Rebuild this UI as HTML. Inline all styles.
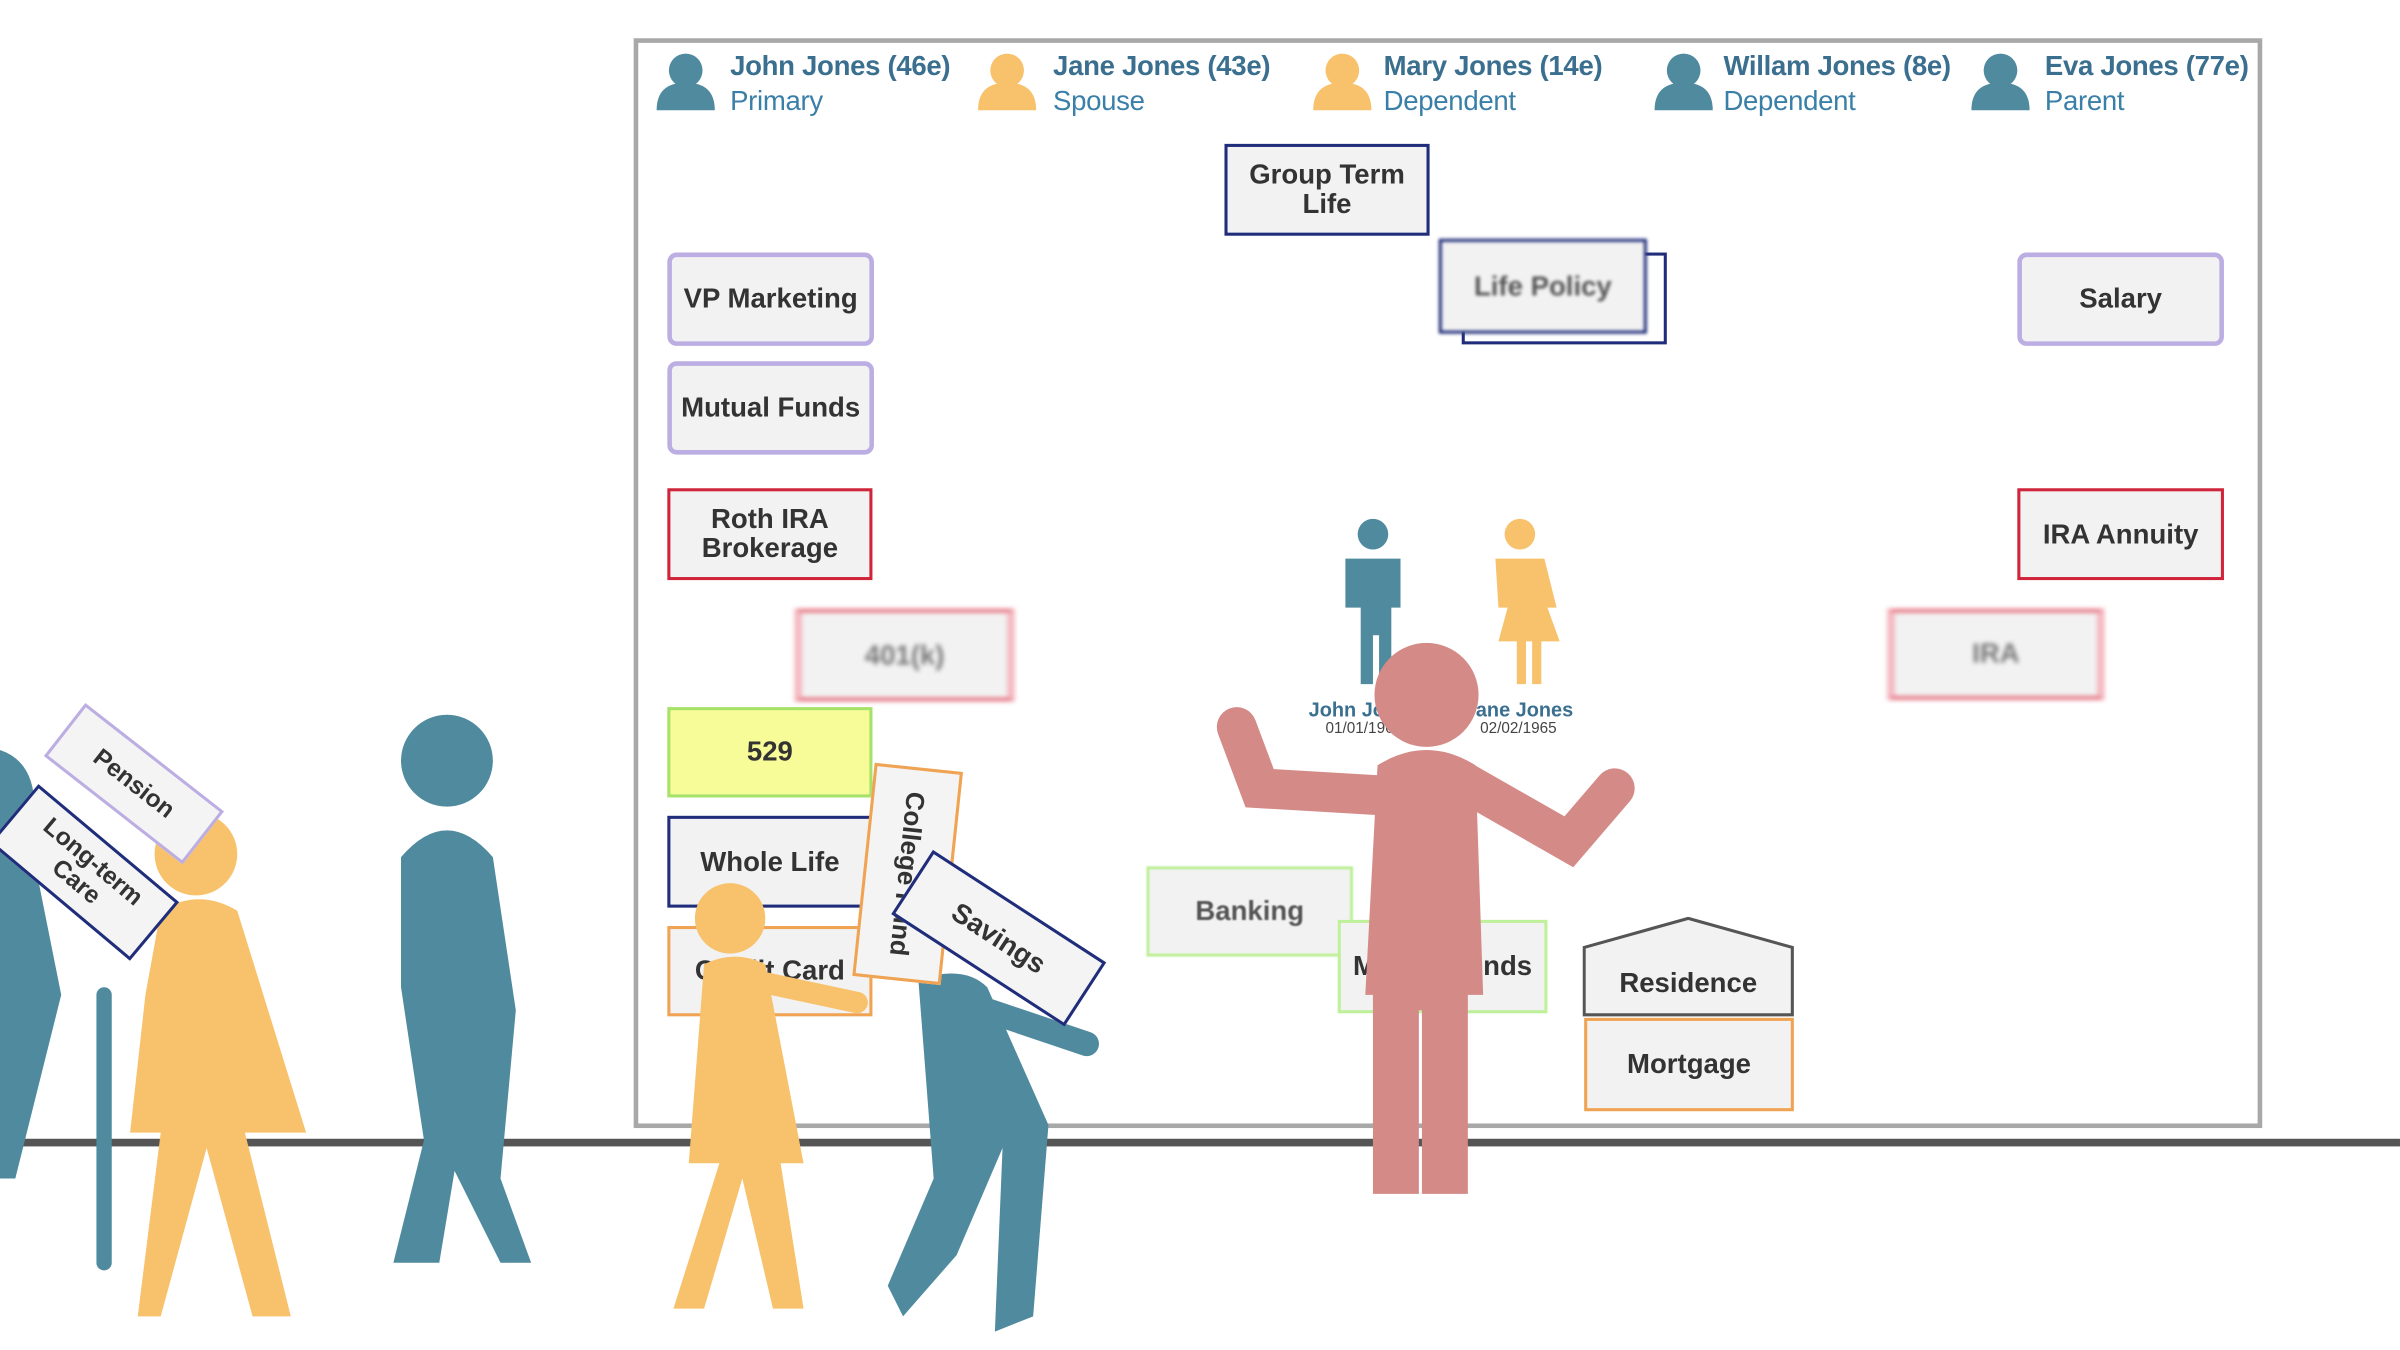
<!DOCTYPE html>
<html><head><meta charset="utf-8"><style>
html,body{margin:0;padding:0;background:#fff;overflow:hidden}
#w{position:relative;width:1568px;height:882px;transform:scale(1.5306);transform-origin:0 0;font-family:"Liberation Sans",sans-serif}
.b{position:absolute;box-sizing:border-box;background:#f2f2f2;display:flex;align-items:center;justify-content:center;text-align:center;font-weight:bold;font-size:18px;color:#333;line-height:19px}
.nav{border:2px solid #1f2d7a}
.pur{border:3px solid #bcaee2;border-radius:6px}
.red{border:2px solid #d0243a}
.grn{border:2px solid #bff09a}
.org{border:2px solid #f0a352}
.blur{filter:blur(1.5px);border-left:5px solid #f4b8c0;border-right:5px solid #f4b8c0;border-top:2px solid #e05060;border-bottom:2px solid #e05060;color:#777}
.hn{position:absolute;top:32px;color:#3a6f8f;font-size:18px;line-height:23px;letter-spacing:-0.2px}
.hn b{display:block}
.hn span{color:#3a7fa8}
</style></head><body><div id="w">
<div style="position:absolute;left:414px;top:25px;width:1064px;height:712px;border:3px solid #a8a8a8;box-sizing:border-box"></div>
<div style="position:absolute;left:0;top:744px;width:1568px;height:5px;background:#555"></div>

<svg style="position:absolute;left:0;top:0" width="1568" height="882">
<g fill="#4f8a9e"><circle cx="448" cy="46" r="11"/><path d="M429 72 q0-18 19-18 q19 0 19 18z"/>
<circle cx="1100" cy="46" r="11"/><path d="M1081 72 q0-18 19-18 q19 0 19 18z"/>
<circle cx="1307" cy="46" r="11"/><path d="M1288 72 q0-18 19-18 q19 0 19 18z"/></g>
<g fill="#f7c26b"><circle cx="658" cy="46" r="11"/><path d="M639 72 q0-18 19-18 q19 0 19 18z"/>
<circle cx="877" cy="46" r="11"/><path d="M858 72 q0-18 19-18 q19 0 19 18z"/></g>
</svg>
<div class="hn" style="left:477px"><b>John Jones (46e)</b><span>Primary</span></div>
<div class="hn" style="left:688px"><b>Jane Jones (43e)</b><span>Spouse</span></div>
<div class="hn" style="left:904px"><b>Mary Jones (14e)</b><span>Dependent</span></div>
<div class="hn" style="left:1126px"><b>Willam Jones (8e)</b><span>Dependent</span></div>
<div class="hn" style="left:1336px"><b>Eva Jones (77e)</b><span>Parent</span></div>

<div class="b nav" style="left:800px;top:94px;width:134px;height:60px">Group Term<br>Life</div>
<div class="b nav" style="left:955px;top:165px;width:134px;height:60px;background:#fff"></div>
<div class="b nav" style="left:940px;top:156px;width:136px;height:62px;filter:blur(1px);color:#555">Life Policy</div>
<div class="b pur" style="left:436px;top:165px;width:135px;height:61px">VP Marketing</div>
<div class="b pur" style="left:436px;top:236px;width:135px;height:61px">Mutual Funds</div>
<div class="b red" style="left:436px;top:319px;width:134px;height:60px">Roth IRA<br>Brokerage</div>
<div class="b blur" style="left:519px;top:398px;width:144px;height:60px">401(k)</div>
<div class="b pur" style="left:1318px;top:165px;width:135px;height:61px">Salary</div>
<div class="b red" style="left:1318px;top:319px;width:135px;height:60px">IRA Annuity</div>
<div class="b blur" style="left:1233px;top:398px;width:142px;height:59px">IRA</div>
<div class="b" style="left:436px;top:462px;width:134px;height:59px;background:#f8fc98;border:2px solid #a6e26a">529</div>
<div class="b nav" style="left:436px;top:533px;width:134px;height:60px">Whole Life</div>
<div class="b org" style="left:436px;top:605px;width:134px;height:59px">Credit Card</div>
<div class="b grn" style="left:749px;top:566px;width:135px;height:59px;color:#555;filter:blur(0.5px)">Banking</div>
<div class="b grn" style="left:874px;top:601px;width:137px;height:61px">Mutual Funds</div>
<svg style="position:absolute;left:1034px;top:599px" width="140" height="66"><path d="M1 20 L69 1 L137 20 L137 64 L1 64Z" fill="#f2f2f2" stroke="#555" stroke-width="2"/></svg>
<div class="b" style="left:1035px;top:622px;width:136px;height:40px;background:none">Residence</div>
<div class="b org" style="left:1035px;top:665px;width:137px;height:61px">Mortgage</div>

<div style="position:absolute;left:855px;top:456px;font-size:13px;font-weight:bold;color:#3a6f8f">John Jones</div>
<div style="position:absolute;left:866px;top:471px;font-size:10px;color:#444">01/01/1960</div>
<div style="position:absolute;left:957px;top:456px;font-size:13px;font-weight:bold;color:#3a6f8f">Jane Jones</div>
<div style="position:absolute;left:967px;top:471px;font-size:10px;color:#444">02/02/1965</div>

<svg style="position:absolute;left:0;top:0" width="1568" height="882">
<g fill="#4f8a9e"><circle cx="897" cy="349" r="10"/><path d="M879 365 h36 v32 h-6 v50 h-8 v-32 h-4 v32 h-8 v-50 h-10z"/></g>
<g fill="#f7c26b"><circle cx="993" cy="349" r="10"/><path d="M977 365 h32 l8 32 h-6 l8 22 h-12 v28 h-6 v-28 h-4 v28 h-6 v-28 h-12 l6 -22 h-6z"/></g>
<g fill="#4f8a9e" stroke="#4f8a9e" stroke-linecap="round">
<circle cx="292" cy="497" r="30" stroke="none"/>
<path d="M262 560 q30-35 60 0 l15 100 l-10 110 l20 55 h-20 l-30-60 l-10 60 h-30 l20-80 l-15-100z" stroke="none"/>
<path d="M0 490 q30 10 20 60 l20 100 l-30 120 h-20 v-280z" stroke="none"/>
<line x1="68" y1="650" x2="68" y2="825" stroke-width="10"/>
<path d="M600 640 q30-10 45 5 l40 90 l-10 125 l-25 10 l5-120 l-30 70 l-35 40 l-10-20 l30-70 z" stroke="none"/>
<line x1="615" y1="650" x2="710" y2="682" stroke-width="16"/>
</g>
<g fill="#f7c26b" stroke="#f7c26b" stroke-linecap="round">
<circle cx="128" cy="558" r="27" stroke="none"/>
<path d="M105 595 q25-15 50 0 l45 145 h-40 l30 120 h-25 l-30-110 l-30 110 h-15 l15-120 h-20 l10-90z" stroke="none"/>
<circle cx="477" cy="600" r="23" stroke="none"/>
<path d="M460 630 q20-10 40 0 l25 130 h-15 l15 95 h-20 l-20-85 l-25 85 h-20 l30-95 h-20z" stroke="none"/>
<line x1="490" y1="640" x2="560" y2="655" stroke-width="14"/>
</g>
<g fill="#d48a86" stroke="#d48a86" stroke-linecap="round">
<circle cx="932" cy="454" r="34" stroke="none"/>
<path d="M900 500 q32-20 64 0 l5 150 h-10 v130 h-30 v-120 h-2 v120 h-30 v-130 h-5z" stroke="none"/>
<path d="M808 475 l15 40 l85 5" fill="none" stroke-width="26"/>
<path d="M1055 515 l-30 35 l-70-40" fill="none" stroke-width="26"/>
</g>
</svg>

<div class="b" style="left:30px;top:490px;width:115px;height:44px;border:2px solid #bcaee2;background:#f4f4f4;transform:rotate(38deg);font-size:16px">Pension</div>
<div class="b" style="left:-5px;top:545px;width:120px;height:50px;border:2px solid #1f2d7a;background:#f4f4f4;transform:rotate(40deg);font-size:16px;line-height:17px">Long-term<br>Care</div>
<div class="b" style="left:523px;top:542px;width:140px;height:58px;border:2px solid #f0a352;background:#f4f4f4;transform:rotate(96deg);font-size:17px;white-space:nowrap">College Fund</div>
<div class="b" style="left:585px;top:588px;width:135px;height:50px;border:2px solid #1f2d7a;background:#f4f4f4;transform:rotate(33deg);font-size:18px">Savings</div>
</div></body></html>
